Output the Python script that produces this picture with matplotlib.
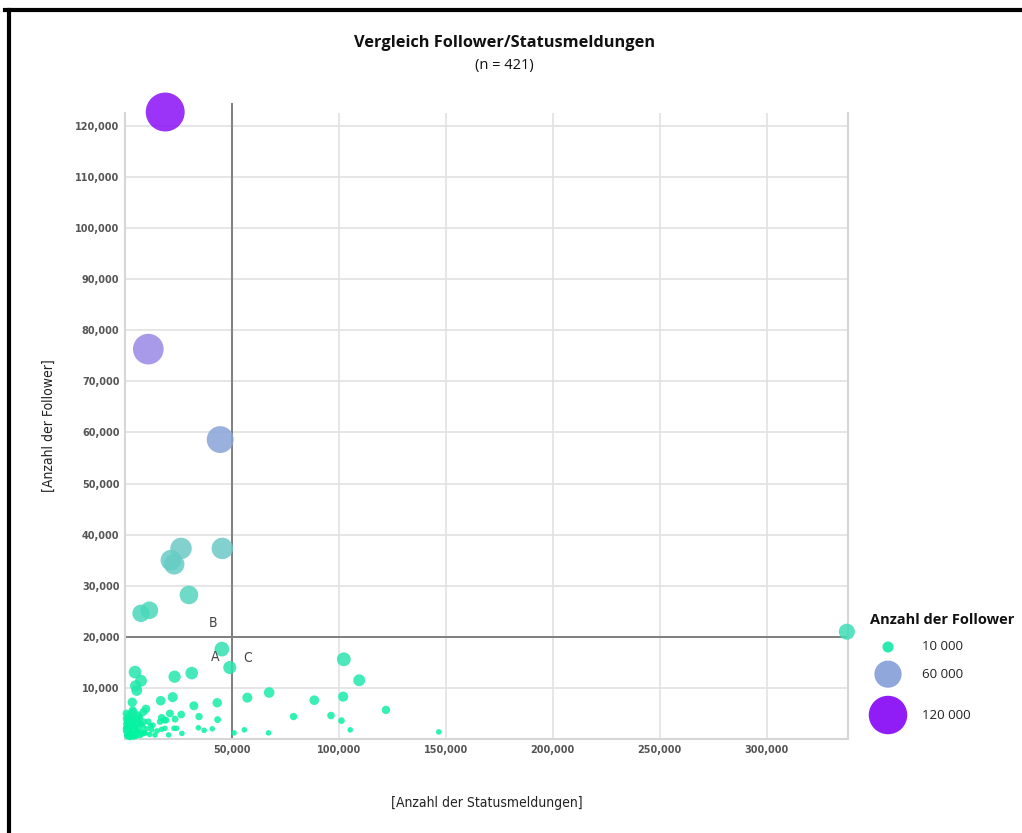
import matplotlib
matplotlib.use("Agg")
import matplotlib.pyplot as plt
from matplotlib.colors import LinearSegmentedColormap
from matplotlib.lines import Line2D
from matplotlib.ticker import FuncFormatter

# Statusmeldungen (x) and Follower (y)
statusmeldungen = [
    18800, 10900, 44500, 26200, 45500, 21500, 23000, 29900, 7500, 11400,
    337500, 45300, 49000, 102300, 109500, 23200, 31200, 4700, 7500, 5000,
    5500, 3400, 9800, 16700, 22300, 32200, 43100, 57200, 67400, 88500,
    102000, 122000, 78800, 96300, 101200, 105300, 146700, 51000, 55800, 67100,
    34600, 43300, 34300, 37000, 40800, 17100, 21000, 26300, 23400, 19200,
    22900, 26600, 20400, 17100, 3900, 6200, 2300, 7000, 10900, 12500,
    16400, 18400, 18700, 24100, 1600, 800, 4700, 9300, 14000, 3100,
    8600, 1000, 2000, 3000, 500, 1500, 4000, 5500, 6500, 2500,
    300, 7800, 3500, 5000, 8500, 1200, 2800, 4200, 6000, 900,
    1800, 3300, 5200, 7200, 600, 2200, 4600, 9000, 11500, 13000,
    400, 1100, 1900, 2600, 3700, 4400, 5800, 6800, 8000, 700,
    1400, 2100, 3200, 4900, 6300, 7600, 200, 1700, 2900, 3900,
    5300, 6600, 8800, 10200, 12000, 15000, 900, 2400, 3600, 4800,
]
follower = [
    122700, 76300, 58600, 37300, 37300, 35000, 34200, 28200, 24600, 25200,
    21000, 17600, 14000, 15600, 11500, 12200, 12900, 13100, 11400, 10400,
    9500, 7200, 5900, 7500, 8200, 6500, 7100, 8100, 9100, 7600,
    8300, 5700, 4400, 4600, 3600, 1800, 1400, 1200, 1800, 1200,
    4400, 3800, 2200, 1700, 2000, 4200, 5000, 4800, 3900, 3700,
    2100, 1100, 800, 1900, 5300, 4700, 3700, 3100, 3400, 1800,
    3400, 3700, 2100, 2100, 1800, 800, 2400, 1100, 800, 4400,
    5300, 500, 1200, 2500, 3000, 4200, 1000, 600, 2000, 300,
    1500, 1500, 3500, 3800, 2500, 2200, 1600, 2900, 1300, 2600,
    400, 700, 1700, 700, 4000, 3200, 500, 1300, 900, 2700,
    2300, 3300, 4600, 1900, 1200, 3900, 2800, 4300, 1000, 5000,
    600, 2700, 1100, 2200, 3600, 2900, 2000, 3800, 4900, 400,
    1300, 4100, 3400, 2000, 2600, 1600, 3700, 900, 5600, 2500,
]

legend_values = [10000, 60000, 120000]
legend_labels = ["10 000", "60 000", "120 000"]

x_ticks = [50000, 100000, 150000, 200000, 250000, 300000]
y_ticks = [10000, 20000, 30000, 40000, 50000, 60000, 70000, 80000, 90000, 100000, 110000, 120000]

quadrant_x = 50000
quadrant_y = 20000
quadrant_labels = [("A", 42000, 16000), ("B", 41100, 22700), ("C", 57500, 15900)]

cmap = LinearSegmentedColormap.from_list(
    "follower", [(0.0, "#00f5a0"), (0.3, "#6ccbc6"), (0.5, "#8aa2da"), (0.64, "#9b88e6"), (1.0, "#8a10f5")]
)


def bubble_size(v):
    # area proportional to follower count
    return max(v / 1000 * 6.4, 16)


def bubble_color(v):
    return cmap(min(v / 120000.0, 1.0))


narrow = {"family": "DejaVu Sans", "stretch": "condensed"}
W, H = 1022, 833

fig = plt.figure(figsize=(10.22, 8.33), dpi=100)
ax = fig.add_axes([0.1223, 0.1128, 0.7074, 0.7515])

sizes = [bubble_size(v) for v in follower]
colors = [bubble_color(v) for v in follower]
ax.scatter(statusmeldungen, follower, s=sizes, c=colors, alpha=0.85, linewidths=0, zorder=3, clip_on=False)

ax.set_xlim(0, 338000)
ax.set_ylim(0, 122500)
ax.set_xticks(x_ticks)
ax.set_yticks(y_ticks)
fmt = FuncFormatter(lambda v, p: f"{int(v):,}")
ax.xaxis.set_major_formatter(fmt)
ax.yaxis.set_major_formatter(fmt)
ax.tick_params(length=0, labelsize=7, labelcolor="#555555", pad=4)
for lab in ax.get_xticklabels() + ax.get_yticklabels():
    lab.set_fontweight("bold")
ax.grid(True, color="#e2e2e2", linewidth=1.2, zorder=0)
ax.spines["top"].set_visible(False)
for side in ["left", "bottom", "right"]:
    ax.spines[side].set_color("#d6d6d6")
    ax.spines[side].set_linewidth(1.5)

# quadrant lines
ax.plot([quadrant_x, quadrant_x], [0, 124200], color="#7f7f7f", lw=1.4, zorder=2, clip_on=False)
ax.plot([0, 338000], [quadrant_y, quadrant_y], color="#7f7f7f", lw=1.4, zorder=2)
for txt, qx, qy in quadrant_labels:
    ax.text(qx, qy, txt, fontsize=10, color="#444444", ha="center", va="center", zorder=4, **narrow)

ax.set_xlabel("[Anzahl der Statusmeldungen]", fontsize=10, color="#222222", labelpad=30, **narrow)
ax.set_ylabel("[Anzahl der Follower]", fontsize=10, color="#222222", labelpad=14, **narrow)

fig.text(0.494, 0.948, "Vergleich Follower/Statusmeldungen", ha="center", va="center",
         fontsize=11.8, fontweight="bold", family="Open Sans", color="#111111")
fig.text(0.494, 0.921, "(n = 421)", ha="center", va="center", fontsize=10.5,
         family="Open Sans", color="#111111")

# size legend in its own small axes, pixel units (y pointing down)
lx0, ly0, lw, lh = 850, 600, 172, 150
lax = fig.add_axes([lx0 / W, 1 - (ly0 + lh) / H, lw / W, lh / H])
lax.set_xlim(0, lw)
lax.set_ylim(lh, 0)
lax.axis("off")
lax.text(20, 20, "Anzahl der Follower", fontsize=10.5, fontweight="bold", family="Open Sans",
         color="#111111", va="center", ha="left")
diam = [bubble_size(v) ** 0.5 / 0.72 for v in legend_values]
centers = []
y = 47
for i, d in enumerate(diam):
    if i > 0:
        y += diam[i - 1] / 2 + d / 2 + 8
    centers.append(y)
lax.scatter([38] * len(legend_values), centers, s=[bubble_size(v) for v in legend_values],
            c=[bubble_color(v) for v in legend_values], alpha=0.95, linewidths=0, clip_on=False)
for lbl, cy in zip(legend_labels, centers):
    lax.text(72, cy, lbl, fontsize=9.5, family="Open Sans", color="#222222", va="center", ha="left")

# outer frame (top and left edges)
fig.add_artist(Line2D([0.005, 1.0], [0.988, 0.988], transform=fig.transFigure, color="black", lw=3))
fig.add_artist(Line2D([0.0085, 0.0085], [0.0, 0.988], transform=fig.transFigure, color="black", lw=3))

fig.savefig("out.png", dpi=100)
